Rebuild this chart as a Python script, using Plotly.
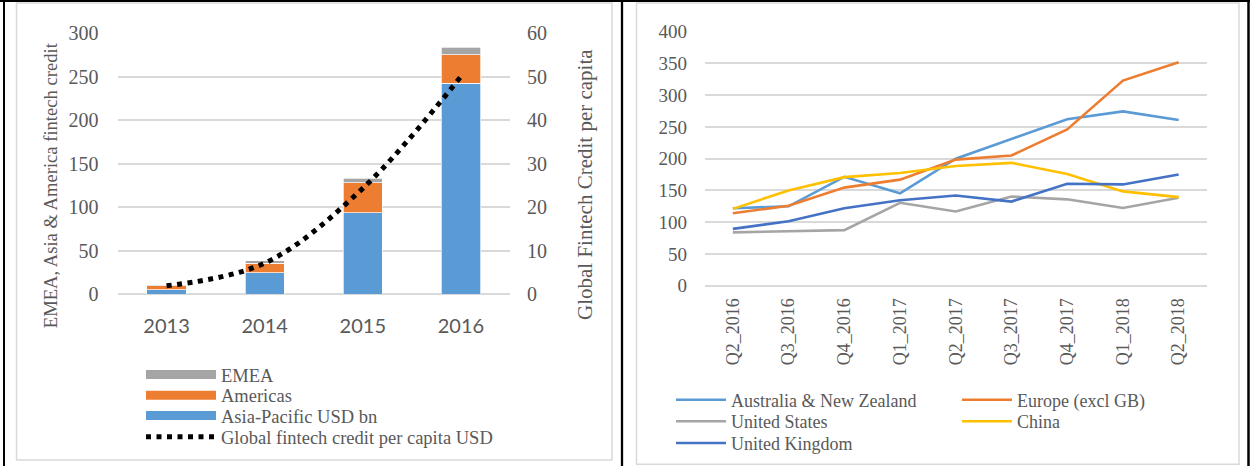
import plotly.graph_objects as go

# ---------------- data: left chart ----------------
years = ["2013", "2014", "2015", "2016"]
asia_pacific = [5.0, 24.5, 93.5, 242.5]
americas = [4.5, 10.7, 34.5, 32.5]
emea = [1.0, 3.0, 5.0, 8.5]
per_capita = [1.9, 7.1, 24.3, 50.0]

left_y_ticks = [0, 50, 100, 150, 200, 250, 300]
left_y2_ticks = [0, 10, 20, 30, 40, 50, 60]

# ---------------- data: right chart ----------------
quarters = ["Q2_2016", "Q3_2016", "Q4_2016", "Q1_2017", "Q2_2017",
            "Q3_2017", "Q4_2017", "Q1_2018", "Q2_2018"]
anz = [122, 125, 171.5, 145.5, 200, 231.5, 262, 274.5, 261]
europe = [114, 126, 154.5, 167, 198.5, 205, 246, 323, 352]
united_states = [84, 85.5, 87.5, 130.5, 117, 140.5, 136, 122.5, 138.5]
china = [121, 150, 171, 177.5, 188.5, 193.5, 176, 148.5, 139.5]
united_kingdom = [89.5, 101.5, 122, 134.5, 142, 132.5, 160.5, 159.5, 175]

right_y_ticks = [0, 50, 100, 150, 200, 250, 300, 350, 400]

W, H = 1250, 466
SERIF = "Liberation Serif, Times New Roman, serif"
SANS = "Lato, Liberation Sans, sans-serif"
TXT = "#595959"
GRID = "#D9D9D9"

C_BLUE = "#5B9BD5"
C_ORANGE = "#ED7D31"
C_GRAY = "#A5A5A5"
C_YELLOW = "#FFC000"
C_DBLUE = "#4472C4"


def px(x):
    return x / W


def py(y):
    return 1 - y / H


fig = go.Figure()

# stacked bars (left)
for name, vals, col, grp in [("Asia-Pacific USD bn", asia_pacific, C_BLUE, "ap"),
                             ("Americas", americas, C_ORANGE, "am"),
                             ("EMEA", emea, C_GRAY, "em")]:
    fig.add_trace(go.Bar(x=years, y=vals, name=name, marker_color=col,
                         marker_line=dict(color="white", width=0.7),
                         width=0.4, xaxis="x", yaxis="y", showlegend=False,
                         legendgroup=grp))

# legend keys for the bars (wide rectangles like the reference)
for name, col, grp, lg in [("EMEA", C_GRAY, "em", "legend"),
                           ("Americas", C_ORANGE, "am", "legend2"),
                           ("Asia-Pacific USD bn", C_BLUE, "ap", "legend3")]:
    fig.add_trace(go.Scatter(x=[None], y=[None], mode="lines", name=name,
                             line=dict(color=col, width=9), xaxis="x", yaxis="y",
                             legend=lg, legendgroup=grp))

fig.add_trace(go.Scatter(x=years, y=per_capita, mode="lines",
                         name="Global fintech credit per capita USD",
                         line=dict(color="black", width=5, dash="5px,5.5px",
                                   shape="spline", smoothing=1.0),
                         xaxis="x", yaxis="y2", legend="legend4"))

# lines (right)
for name, vals, col, lg in [("Australia & New Zealand", anz, C_BLUE, "legend5"),
                            ("Europe (excl GB)", europe, C_ORANGE, "legend6"),
                            ("United States", united_states, C_GRAY, "legend7"),
                            ("China", china, C_YELLOW, "legend8"),
                            ("United Kingdom", united_kingdom, C_DBLUE, "legend9")]:
    fig.add_trace(go.Scatter(x=quarters, y=vals, mode="lines", name=name,
                             line=dict(color=col, width=2.6),
                             xaxis="x2", yaxis="y3", legend=lg))

tick_font_l = dict(family=SERIF, size=20, color=TXT)
tick_font_r = dict(family=SERIF, size=19, color=TXT)


def leg(x, y, iw, size):
    return dict(x=px(x), y=py(y), xanchor="left", yanchor="middle",
                orientation="v", itemwidth=iw, bgcolor="rgba(0,0,0,0)",
                borderwidth=0, font=dict(family=SERIF, size=size, color=TXT))


fig.update_layout(
    width=W, height=H,
    margin=dict(l=0, r=0, t=0, b=0, autoexpand=False),
    paper_bgcolor="white", plot_bgcolor="white",
    barmode="stack",
    xaxis=dict(domain=[px(117.5), px(510)], anchor="y", type="category",
               range=[-0.5, 3.5], showgrid=False, showline=False, ticks="",
               tickfont=dict(family=SANS, size=20, color=TXT), automargin=False,
               ticklabelstandoff=18),
    yaxis=dict(domain=[py(294), py(33)], anchor="x", range=[0, 300],
               tickvals=left_y_ticks, showgrid=True, gridcolor=GRID, gridwidth=1.5,
               zeroline=True, zerolinecolor=GRID, zerolinewidth=1.5,
               showline=False, ticks="", tickfont=tick_font_l, automargin=False,
               ticklabelstandoff=18),
    yaxis2=dict(overlaying="y", side="right", anchor="x", range=[0, 60],
                tickvals=left_y2_ticks, showgrid=False, zeroline=False,
                showline=False, ticks="", tickfont=tick_font_l, automargin=False,
                ticklabelstandoff=16),
    xaxis2=dict(domain=[px(705), px(1206.5)], anchor="y3", type="category",
                range=[-0.5, 8.5], showgrid=False, showline=False, ticks="",
                tickangle=-90, tickfont=dict(family=SERIF, size=18, color=TXT),
                automargin=False, ticklabelstandoff=8),
    yaxis3=dict(domain=[py(285.7), py(31.7)], anchor="x2", range=[0, 400],
                tickvals=right_y_ticks, showgrid=True, gridcolor=GRID, gridwidth=1.5,
                zeroline=True, zerolinecolor=GRID, zerolinewidth=1.5,
                showline=False, ticks="", tickfont=tick_font_r, automargin=False,
                ticklabelstandoff=17),
    legend=leg(141, 375, 70, 18.5),
    legend2=leg(141, 395.7, 70, 18.5),
    legend3=leg(141, 416, 70, 18.5),
    legend4=leg(141, 437.3, 70, 18.5),
    legend5=leg(671, 400, 50, 18),
    legend6=leg(957, 400, 50, 18),
    legend7=leg(671, 421.5, 50, 18),
    legend8=leg(957, 421.5, 50, 18),
    legend9=leg(671, 443.3, 50, 18),
    showlegend=True,
)

# axis titles
fig.add_annotation(text="EMEA, Asia & America fintech credit", x=px(38.7), y=py(185),
                   xref="paper", yref="paper", textangle=-90, showarrow=False,
                   font=dict(family=SERIF, size=18.6, color=TXT))
fig.add_annotation(text="Global Fintech Credit per capita", x=px(585), y=py(185),
                   xref="paper", yref="paper", textangle=-90, showarrow=False,
                   font=dict(family=SERIF, size=21, color=TXT))

# panel frames (page decoration)
shapes = [
    dict(type="rect", x0=px(16.5), x1=px(612), y0=py(460), y1=py(3),
         line=dict(color=GRID, width=1.5)),
    dict(type="rect", x0=px(636.5), x1=px(1239), y0=py(464.3), y1=py(3),
         line=dict(color=GRID, width=1.5)),
    dict(type="line", x0=0, x1=1, y0=py(1), y1=py(1), line=dict(color="black", width=2)),
    dict(type="line", x0=px(4), x1=px(4), y0=0, y1=py(1), line=dict(color="black", width=2)),
    dict(type="line", x0=px(622), x1=px(622), y0=0, y1=py(1), line=dict(color="black", width=2.3)),
    dict(type="line", x0=px(1248.5), x1=px(1248.5), y0=0, y1=py(1), line=dict(color="black", width=2.5)),
]
for s in shapes:
    s.update(xref="paper", yref="paper", layer="above")
fig.update_layout(shapes=shapes)

fig.write_html("out.html", config={"displayModeBar": False},
               post_script="document.body.style.margin='0px';"
                           "document.body.style.overflow='hidden';")
